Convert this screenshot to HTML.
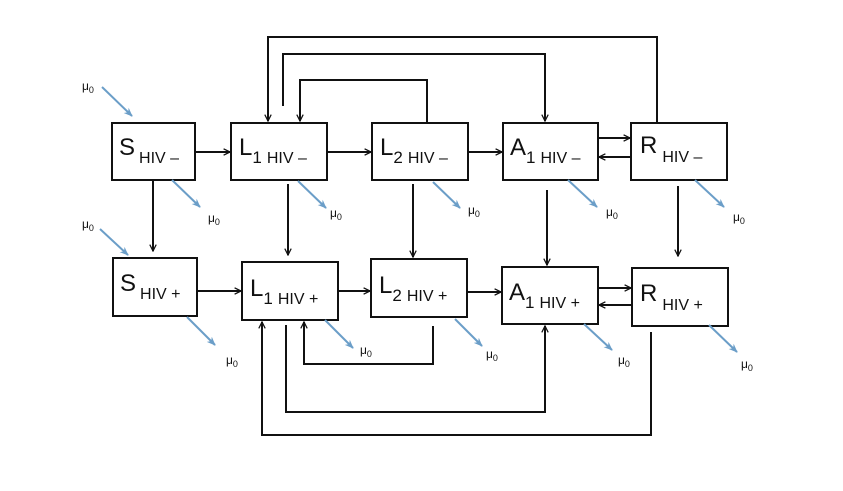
<!DOCTYPE html>
<html><head><meta charset="utf-8"><style>html,body{margin:0;padding:0;background:#fff}</style></head>
<body>
<svg width="843" height="486" viewBox="0 0 843 486" xmlns="http://www.w3.org/2000/svg" font-family="Liberation Sans, sans-serif">
<defs>
<marker id="a" viewBox="0 0 10 10" refX="9" refY="5" markerWidth="8" markerHeight="8" markerUnits="userSpaceOnUse" orient="auto"><path d="M1,1 L9,5 L1,9" fill="none" stroke="#111" stroke-width="1.6"/></marker>
<marker id="b" viewBox="0 0 10 10" refX="9" refY="5" markerWidth="9" markerHeight="9" markerUnits="userSpaceOnUse" orient="auto"><path d="M0,1 L10,5 L0,9 L3,5 Z" fill="#6b9ec8"/></marker>
</defs>
<g fill="#fff" stroke="#111" stroke-width="2">
<rect x="112" y="123" width="83" height="57"/>
<rect x="231" y="123" width="96" height="57"/>
<rect x="372" y="123" width="96" height="57"/>
<rect x="503" y="123" width="95" height="57"/>
<rect x="631" y="123" width="96" height="57"/>
<rect x="113" y="258" width="84" height="58"/>
<rect x="242" y="262" width="96" height="58"/>
<rect x="371" y="259" width="96" height="58"/>
<rect x="502" y="267" width="96" height="57"/>
<rect x="632" y="268" width="96" height="58"/>
</g>
<g fill="none" stroke="#111" stroke-width="2" marker-end="url(#a)">
<path d="M657,123 V37 H268 V121"/>
<path d="M283,106 V54 H545 V121"/>
<path d="M427,123 V80 H300 V121"/>
<path d="M195,152 H230"/>
<path d="M327,152 H371"/>
<path d="M468,152 H502"/>
<path d="M598,138 H630"/>
<path d="M631,157 H599"/>
<path d="M153,180 V251"/>
<path d="M288,184 V255"/>
<path d="M413,184 V257"/>
<path d="M547,190 V265"/>
<path d="M678,186 V256"/>
<path d="M197,291 H241"/>
<path d="M338,291 H370"/>
<path d="M467,292 H501"/>
<path d="M598,288 H631"/>
<path d="M632,305 H599"/>
<path d="M433,326 V364 H304 V322"/>
<path d="M286,325 V412 H545 V326"/>
<path d="M651,332 V435 H262 V322"/>
</g>
<g stroke="#6b9ec8" stroke-width="2" marker-end="url(#b)">
<line x1="102" y1="87" x2="132" y2="116"/>
<line x1="172" y1="180" x2="200" y2="207"/>
<line x1="298" y1="181" x2="326" y2="208"/>
<line x1="433" y1="182" x2="460" y2="208"/>
<line x1="568" y1="180" x2="597" y2="207"/>
<line x1="695" y1="180" x2="724" y2="207"/>
<line x1="100" y1="229" x2="128" y2="255"/>
<line x1="187" y1="317" x2="215" y2="345"/>
<line x1="325" y1="320" x2="353" y2="348"/>
<line x1="455" y1="319" x2="482" y2="346"/>
<line x1="584" y1="324" x2="612" y2="350"/>
<line x1="709" y1="325" x2="737" y2="352"/>
</g>
<g font-size="12" fill="#111">
<text x="82" y="90">μ<tspan font-size="9" dy="3">0</tspan></text>
<text x="208" y="222">μ<tspan font-size="9" dy="3">0</tspan></text>
<text x="330" y="217">μ<tspan font-size="9" dy="3">0</tspan></text>
<text x="468" y="214">μ<tspan font-size="9" dy="3">0</tspan></text>
<text x="606" y="216">μ<tspan font-size="9" dy="3">0</tspan></text>
<text x="733" y="221">μ<tspan font-size="9" dy="3">0</tspan></text>
<text x="82" y="228">μ<tspan font-size="9" dy="3">0</tspan></text>
<text x="226" y="364">μ<tspan font-size="9" dy="3">0</tspan></text>
<text x="360" y="354">μ<tspan font-size="9" dy="3">0</tspan></text>
<text x="486" y="358">μ<tspan font-size="9" dy="3">0</tspan></text>
<text x="618" y="364">μ<tspan font-size="9" dy="3">0</tspan></text>
<text x="741" y="368">μ<tspan font-size="9" dy="3">0</tspan></text>
</g>
<g fill="#111" font-size="24">
<text x="119" y="155">S<tspan font-size="16" dx="4" dy="8">HIV –</tspan></text>
<text x="239" y="155">L<tspan font-size="17" dy="8">1</tspan><tspan font-size="16" dx="5">HIV –</tspan></text>
<text x="380" y="155">L<tspan font-size="17" dy="8">2</tspan><tspan font-size="16" dx="5">HIV –</tspan></text>
<text x="510" y="155">A<tspan font-size="17" dy="8">1</tspan><tspan font-size="16" dx="5">HIV –</tspan></text>
<text x="640" y="153">R<tspan font-size="16" dx="5" dy="9">HIV –</tspan></text>
<text x="120" y="291">S<tspan font-size="16" dx="4" dy="8">HIV +</tspan></text>
<text x="250" y="296">L<tspan font-size="17" dy="8">1</tspan><tspan font-size="16" dx="5">HIV +</tspan></text>
<text x="379" y="293">L<tspan font-size="17" dy="8">2</tspan><tspan font-size="16" dx="5">HIV +</tspan></text>
<text x="509" y="300">A<tspan font-size="17" dy="8">1</tspan><tspan font-size="16" dx="5">HIV +</tspan></text>
<text x="640" y="301">R<tspan font-size="16" dx="5" dy="9">HIV +</tspan></text>
</g>
</svg>
</body></html>
